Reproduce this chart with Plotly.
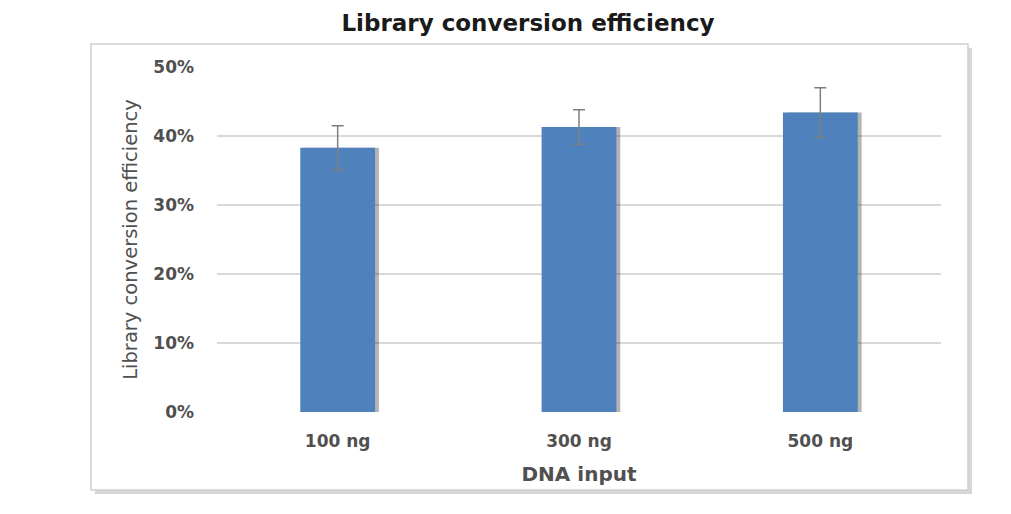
import plotly.graph_objects as go

categories = ["100 ng", "300 ng", "500 ng"]
efficiency = [0.383, 0.413, 0.434]
error = [0.032, 0.025, 0.036]
y_ticks = [0, 0.1, 0.2, 0.3, 0.4, 0.5]
y_tick_labels = ["0%", "10%", "20%", "30%", "40%", "50%"]

W, H = 1011, 514
OFF = 8  # page body margin in the browser
L, R, T, B = 217 - OFF, 70 + OFF, 67 - OFF, 102 + OFF
pw = W - L - R
ph = H - T - B

def px(x):
    return (x - OFF - L) / pw

def py(y):
    return (H - B - (y - OFF)) / ph

fig = go.Figure()

# soft shadow behind bars
fig.add_trace(go.Bar(
    x=categories, y=efficiency, width=0.31, offset=-0.155 + 0.016,
    marker=dict(color="rgba(40,40,40,0.35)", line=dict(width=0)),
    hoverinfo="skip", showlegend=False,
))
fig.add_trace(go.Bar(
    x=categories, y=efficiency, width=0.31, offset=-0.155,
    marker=dict(color="#4f81bd", line=dict(width=0)),
    error_y=dict(type="data", array=error, visible=True,
                 color="#7f7f7f", thickness=1.5, width=6),
    showlegend=False,
))

FAM = "DejaVu Sans, sans-serif"
ytick_font = dict(family=FAM, size=17, color="#505050", weight="bold")
xtick_font = dict(family=FAM, size=17, color="#505050", weight="bold")

fig.update_layout(
    width=W, height=H,
    margin=dict(l=L, r=R, t=T, b=B),
    paper_bgcolor="white",
    plot_bgcolor="#f2f2f2",
    barmode="overlay",
    font=dict(family=FAM, color="#505050"),
    title=dict(text="<b>Library conversion efficiency</b>",
               x=px(528), xref="paper", xanchor="center",
               y=1 - (23 - OFF) / H, yanchor="middle",
               font=dict(size=23, color="#1a1a1a", family=FAM)),
    xaxis=dict(
        showgrid=False, zeroline=False, showline=False,
        tickfont=xtick_font,
        ticks="", ticklabelstandoff=17,
        title=dict(text="DNA input",
                   font=dict(family=FAM, size=20, color="#505050", weight="bold"),
                   standoff=16),
    ),
    yaxis=dict(
        range=[0, 0.5], tickvals=y_ticks, ticktext=y_tick_labels,
        showgrid=True, gridcolor="#d9d9d9", gridwidth=1.5,
        zeroline=False, showline=False,
        tickfont=ytick_font,
        ticks="", ticklabelstandoff=22,
        title=dict(text="Library conversion efficiency",
                   font=dict(family=FAM, size=19.5, color="#505050"),
                   standoff=10),
    ),
    shapes=[
        # outer chart frame shadow
        dict(type="rect", xref="paper", yref="paper",
             x0=px(95), x1=px(972), y0=py(494), y1=py(48),
             fillcolor="rgba(0,0,0,0.16)", line=dict(width=0), layer="below"),
        # outer chart frame
        dict(type="rect", xref="paper", yref="paper",
             x0=px(91), x1=px(968), y0=py(490), y1=py(44),
             fillcolor="white", line=dict(color="#d0d0d0", width=1.5), layer="below"),
    ],
)

fig.write_html("out.html")
